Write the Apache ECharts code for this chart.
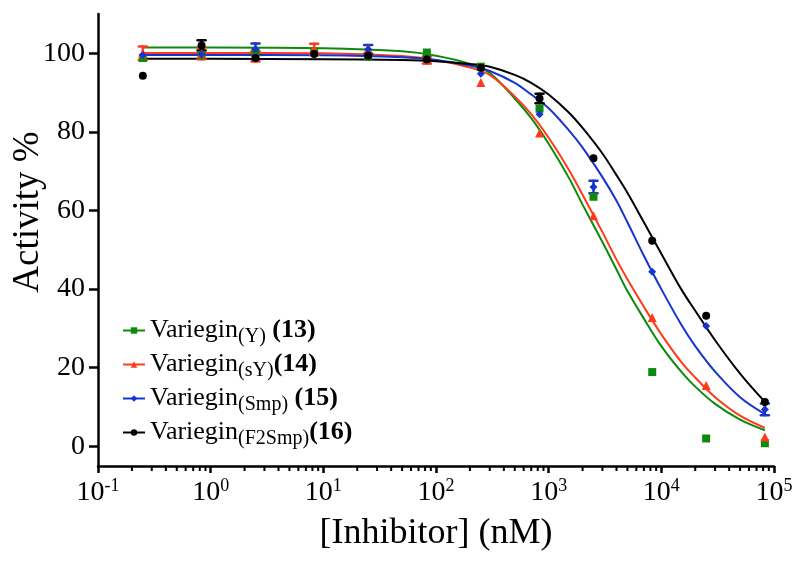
<!DOCTYPE html>
<html>
<head>
<meta charset="utf-8">
<script src="https://cdn.jsdelivr.net/npm/echarts@6/dist/echarts.min.js"></script>
<style>
  html, body { margin: 0; padding: 0; background: #ffffff; }
  #chart { width: 797px; height: 567px; }
</style>
</head>
<body>
<div id="chart"></div>
<script>
// Inhibitor concentrations (nM) of the measured points
const concentrations = [0.25, 0.83, 2.5, 8.3, 25, 83, 250, 830, 2500, 8300, 25000, 83000];

// Measured activity (%) and SEM for each variant
const activityY      = [98.8, 99.5, 100.4, 100.4, 99.2, 100.2, 96.6, 85.9, 63.5, 18.9, 2.0, 0.8];
const errorY         = [null, null, null, null, null, null, null, null, null, null, null, null];
const activitySY     = [100.0, 100.0, 99.2, 101.0, 101.2, 98.3, 92.6, 79.7, 58.7, 32.8, 15.5, 2.4];
const errorSY        = [1.7, 1.5, 1.3, 1.4, null, 0.9, null, null, null, null, null, null];
const activitySmp    = [99.6, 99.7, 101.0, 99.8, 101.0, 98.6, 94.8, 84.5, 66.0, 44.4, 30.6, 9.4];
const errorSmp       = [null, null, 1.5, null, 1.1, null, null, null, 1.6, null, null, 1.5];
const activityF2Smp  = [94.3, 102.0, 98.8, 99.8, 99.4, 98.4, 96.3, 88.5, 73.3, 52.3, 33.2, 11.3];
const errorF2Smp     = [null, 1.3, null, null, null, null, null, 1.2, null, null, null, null];

// Dose-response curves sampled along the concentration range
const curveConc  = [0.25, 1, 10, 50, 100, 200, 300, 500, 700, 1000, 1500, 2000, 3000, 4000, 5000, 7000, 10000, 15000, 20000, 30000, 50000, 83000];
const curveY     = [101.5, 101.5, 101.3, 100.5, 99.4, 97.3, 95.0, 88.5, 83.5, 77.0, 68.5, 61.5, 52.0, 45.0, 39.5, 32.5, 25.5, 19.0, 15.2, 10.8, 6.8, 4.1];
const curveSY    = [100.1, 100.1, 100.0, 99.3, 98.3, 96.4, 94.5, 89.0, 84.5, 78.5, 70.5, 64.0, 54.5, 47.5, 42.5, 35.5, 28.5, 21.5, 17.5, 12.5, 7.8, 4.7];
const curveSmp   = [99.6, 99.6, 99.5, 99.0, 98.3, 96.9, 95.5, 92.5, 89.5, 86.0, 80.5, 76.0, 68.5, 62.5, 57.0, 48.5, 40.0, 31.0, 25.5, 19.0, 12.5, 8.2];
const curveF2Smp = [98.6, 98.6, 98.5, 98.3, 98.0, 97.3, 96.6, 94.5, 92.5, 89.5, 85.0, 81.0, 74.5, 69.0, 64.5, 57.0, 49.0, 40.0, 34.5, 27.0, 18.5, 11.3];

// Axis ranges and ticks
const xMin = 0.1, xMax = 100000;
const yMin = -5, yMax = 110;
const xMajorTicks = [0.1, 1, 10, 100, 1000, 10000, 100000];
const xMinorTicks = [];
for (let d = 0; d < xMajorTicks.length - 1; d++) {
  for (let m = 2; m <= 9; m++) xMinorTicks.push(+(m * xMajorTicks[d]).toPrecision(3));
}
const yTicks = [0, 20, 40, 60, 80, 100];

// Legend text pieces
const seriesNames = ['Variegin(Y) (13)', 'Variegin(sY)(14)', 'Variegin(Smp) (15)', 'Variegin(F2Smp)(16)'];
const legendBase = 'Variegin';
const legendSub = ['(Y)', '(sY)', '(Smp)', '(F2Smp)'];
const legendGap = [' ', '', ' ', ''];
const legendNum = ['(13)', '(14)', '(15)', '(16)'];

const colors = ['#0b8a0b', '#ff3a1c', '#1634d0', '#000000'];
const symbols = ['rect', 'triangle', 'diamond', 'circle'];
const symbolSizes = [8, 9, 8, 8];

const pointSets = [activityY, activitySY, activitySmp, activityF2Smp];
const errorSets = [errorY, errorSY, errorSmp, errorF2Smp];
const curveSets = [curveY, curveSY, curveSmp, curveF2Smp];

const FONT = 'Liberation Serif';

const series = [];
// fitted curves first, so the legend takes their line + marker icon
curveSets.forEach((c, i) => {
  series.push({
    name: seriesNames[i],
    type: 'line',
    data: curveConc.map((x, k) => [x, c[k]]),
    smooth: 0.35,
    symbol: symbols[i],
    showSymbol: false,
    lineStyle: { color: colors[i], width: 2 },
    itemStyle: { color: colors[i] },
    z: 2,
    silent: true
  });
});
// error bars
errorSets.forEach((errs, i) => {
  const data = [];
  concentrations.forEach((x, k) => {
    if (errs[k] != null) data.push([x, pointSets[i][k], errs[k]]);
  });
  series.push({
    name: seriesNames[i],
    type: 'custom',
    data: data,
    z: 3,
    renderItem: function (params, api) {
      const x = api.value(0), y = api.value(1), e = api.value(2);
      const top = api.coord([x, y + e]);
      const bot = api.coord([x, y - e]);
      const hw = 4;
      const st = { stroke: colors[i], lineWidth: 2.5, lineCap: 'round' };
      return {
        type: 'group',
        children: [
          { type: 'line', shape: { x1: top[0], y1: top[1], x2: bot[0], y2: bot[1] }, style: st },
          { type: 'line', shape: { x1: top[0] - hw, y1: top[1], x2: top[0] + hw, y2: top[1] }, style: st },
          { type: 'line', shape: { x1: bot[0] - hw, y1: bot[1], x2: bot[0] + hw, y2: bot[1] }, style: st }
        ]
      };
    }
  });
});
// measured points
pointSets.forEach((p, i) => {
  series.push({
    name: seriesNames[i],
    type: 'scatter',
    data: concentrations.map((x, k) => [x, p[k]]),
    symbol: symbols[i],
    symbolSize: symbolSizes[i],
    itemStyle: { color: colors[i], opacity: 1 },
    z: 4
  });
});
// minor ticks (2..9 of every decade) below the x axis line
series.push({
  name: 'minor ticks',
  type: 'custom',
  silent: true,
  clip: false,
  data: xMinorTicks.map(v => [v, yMin]),
  z: 5,
  renderItem: function (params, api) {
    const p = api.coord([api.value(0), api.value(1)]);
    return {
      type: 'line',
      shape: { x1: p[0], y1: p[1], x2: p[0], y2: p[1] + 5 },
      style: { stroke: '#000', lineWidth: 2 }
    };
  }
});

const legendRich = {
  base: { fontFamily: FONT, fontSize: 26, color: '#000', lineHeight: 33 },
  sub:  { fontFamily: FONT, fontSize: 20, color: '#000', lineHeight: 20, padding: [13, 0, 0, 0] },
  num:  { fontFamily: FONT, fontSize: 26, color: '#000', fontWeight: 'bold', lineHeight: 33 }
};

const option = {
  animation: false,
  backgroundColor: '#ffffff',
  grid: { left: 98, right: 23, top: 14, bottom: 101, containLabel: false, outerBoundsMode: 'none' },
  legend: {
    data: seriesNames,
    orient: 'vertical',
    left: 117,
    top: 309,
    itemWidth: 22,
    itemHeight: 8,
    itemGap: 1,
    selectedMode: false,
    textStyle: { rich: legendRich, padding: [0, 0, 0, 0] },
    formatter: function (name) {
      const i = seriesNames.indexOf(name);
      return '{base|' + legendBase + '}{sub|' + legendSub[i] + '}{base|' + legendGap[i] + '}{num|' + legendNum[i] + '}';
    }
  },
  xAxis: {
    type: 'log',
    logBase: 10,
    min: xMin,
    max: xMax,
    position: 'bottom',
    name: '[Inhibitor] (nM)',
    nameLocation: 'middle',
    nameGap: 50,
    nameMoveOverlap: false,
    nameTextStyle: { fontFamily: FONT, fontSize: 36, color: '#000' },
    axisLine: { show: true, onZero: false, lineStyle: { color: '#000', width: 2.5 } },
    axisTick: { show: true, length: 7, lineStyle: { color: '#000', width: 2.5 }, customValues: xMajorTicks },
    minorTick: { show: false },
    splitLine: { show: false },
    axisLabel: {
      customValues: xMajorTicks,
      margin: 11,
      formatter: function (v) {
        const p = Math.round(Math.log10(v));
        return '{b|10}{p|' + p + '}';
      },
      rich: {
        b: { fontFamily: FONT, fontSize: 28, color: '#000', lineHeight: 32 },
        p: { fontFamily: FONT, fontSize: 18, color: '#000', lineHeight: 18, padding: [0, 0, 14, 0] }
      }
    }
  },
  yAxis: {
    type: 'value',
    min: yMin,
    max: yMax,
    name: 'Activity %',
    nameLocation: 'middle',
    nameGap: 51,
    nameRotate: 90,
    nameMoveOverlap: false,
    nameTextStyle: { fontFamily: FONT, fontSize: 37, color: '#000', padding: [0, 0, 0, 56] },
    axisLine: { show: true, onZero: false, lineStyle: { color: '#000', width: 2.5 } },
    axisTick: { show: true, length: 9, lineStyle: { color: '#000', width: 2.5 }, customValues: yTicks },
    splitLine: { show: false },
    axisLabel: {
      customValues: yTicks,
      margin: 13,
      fontFamily: FONT,
      fontSize: 28,
      color: '#000'
    }
  },
  series: series
};

const chart = echarts.init(document.getElementById('chart'), null, { renderer: 'canvas' });
chart.setOption(option);
</script>
</body>
</html>
